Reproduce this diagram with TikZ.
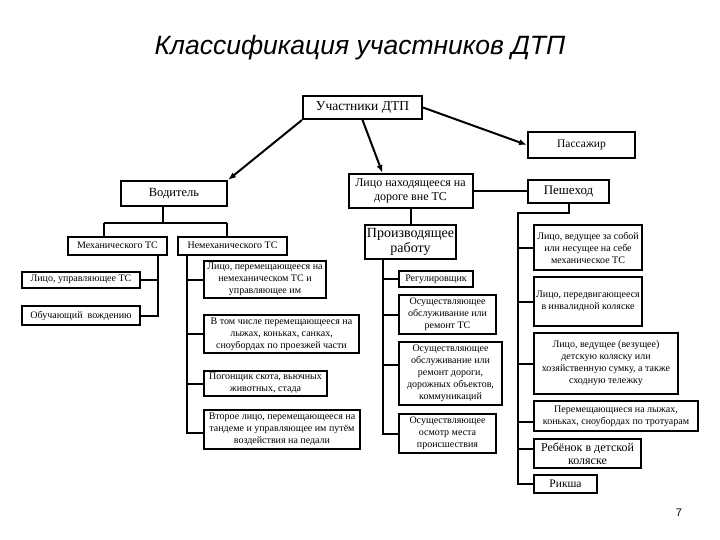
\documentclass[tikz,border=0pt]{standalone}
\usepackage{fontspec}
\setmainfont{Liberation Serif}
\setsansfont{Liberation Sans}
\usetikzlibrary{arrows.meta,calc}
\tikzset{
  box/.style={draw, line width=2pt, inner sep=1pt, align=center, font=\fontsize{10}{12}\selectfont},
  bigbox/.style={box, font=\fontsize{12.5}{14.3}\selectfont},
  conn/.style={line width=2pt},
  arr/.style={line width=2pt, -{Latex[length=8pt,width=6pt]}},
}
\begin{document}
\begin{tikzpicture}[x=1pt,y=-1pt]
\useasboundingbox[fill=white] (0,0) rectangle (720,540);
\node (title) at (360,48) {\sffamily\itshape\fontsize{26.5}{30}\selectfont Классификация участников ДТП};
% level 1
\node[bigbox, font=\fontsize{13.5}{15}\selectfont, minimum width=119, minimum height=23] (uch) at (362.5,107.5) {Участники ДТП};
\node[box, font=\fontsize{11.5}{13}\selectfont, minimum width=107, minimum height=26] (pass) at (581.5,145) {Пассажир};
\node[bigbox, minimum width=106, minimum height=25] (vod) at (174,193.5) {Водитель};
\node[bigbox, font=\fontsize{12}{14.3}\selectfont, minimum width=124, minimum height=34] (lnd) at (410.5,191) {Лицо находящееся на\\дороге вне ТС};
\node[bigbox, font=\fontsize{13}{15}\selectfont, minimum width=81, minimum height=23] (ped) at (568.5,191.5) {Пешеход};
% driver
\node[box, minimum width=99, minimum height=18] (mech) at (117.5,245.5) {Механического ТС};
\node[box, minimum width=109, minimum height=18] (nemech) at (232.5,245.5) {Немеханического ТС};
\node[box, minimum width=118, minimum height=16] (upr) at (81,279.5) {Лицо, управляющее ТС};
\node[box, minimum width=118, minimum height=19] (obuch) at (81,315.5) {Обучающий\ \ вождению};
\node[box, minimum width=122, minimum height=37] (per1) at (265,279.5) {Лицо, перемещающееся на\\немеханическом ТС и\\управляющее им};
\node[box, minimum width=155, minimum height=38] (vtom) at (281.5,334) {В том числе перемещающееся на\\лыжах, коньках, санках,\\сноубордах по проезжей части};
\node[box, minimum width=123, minimum height=25] (pog) at (265.5,383.5) {Погонщик скота, вьючных\\животных, стада};
\node[box, minimum width=156, minimum height=39] (vtor) at (282,429.5) {Второе лицо, перемещающееся на\\тандеме и управляющее им путём\\воздействия на педали};
% work
\node[box, font=\fontsize{14}{15.7}\selectfont, minimum width=91, minimum height=34] (prod) at (410.5,242) {Производящее\\работу};
\node[box, minimum width=74, minimum height=16] (reg) at (436,279) {Регулировщик};
\node[box, minimum width=97, minimum height=39] (obsl1) at (447.5,314.5) {Осуществляющее\\обслуживание или\\ремонт ТС};
\node[box, minimum width=103, minimum height=63] (obsl2) at (450.5,373.5) {Осуществляющее\\обслуживание или\\ремонт дороги,\\дорожных объектов,\\коммуникаций};
\node[box, minimum width=97, minimum height=39] (osm) at (447.5,433.5) {Осуществляющее\\осмотр места\\происшествия};
% pedestrian
\node[box, minimum width=108, minimum height=45] (ved1) at (588,247.5) {Лицо, ведущее за собой\\или несущее на себе\\механическое ТС};
\node[box, minimum width=108, minimum height=49] (inv) at (588,301.5) {Лицо, передвигающееся\\в инвалидной коляске};
\node[box, minimum width=144, minimum height=61] (ved2) at (606,363.5) {Лицо, ведущее (везущее)\\детскую коляску или\\хозяйственную сумку, а также\\сходную тележку};
\node[box, minimum width=164, minimum height=30] (perem) at (616,416) {Перемещающиеся на лыжах,\\коньках, сноубордах по тротуарам};
\node[box, font=\fontsize{12}{12.7}\selectfont, minimum width=107, minimum height=29] (reb) at (587.5,453.5) {Ребёнок в детской\\коляске};
\node[box, font=\fontsize{11.5}{13}\selectfont, minimum width=63, minimum height=18] (riksha) at (565.5,484) {Рикша};
\node (page) at (679,513) {\sffamily\fontsize{11}{13}\selectfont 7};
% arrows from root
\draw[arr] (uch.south west) -- (vod.north east);
\draw[arr] (uch.south) -- ([xshift=-28pt]lnd.north);
\draw[arr] (uch.east) -- (pass.west);
\draw[conn] (lnd.east) -- (lnd.east -| ped.west);
\draw[conn] (lnd.south) -- (prod.north);
% driver tree
\coordinate (vj) at (163,223);
\coordinate (vl) at (104,223);
\coordinate (vr) at (227,223);
\draw[conn] (vod.south -| vj) -- (vj);
\draw[conn] (vl) -- (vr);
\draw[conn] (vl) -- (vl |- mech.north);
\draw[conn] (vr) -- (vr |- nemech.north);
\coordinate (mt) at (158,0);
\draw[conn] (mt |- mech.south) |- (obuch.east);
\draw[conn] (mt |- upr.east) -- (upr.east);
\coordinate (nt) at (187,0);
\draw[conn] (nt |- nemech.south) |- ([yshift=-3pt]vtor.west);
\foreach \n in {per1,vtom,pog} \draw[conn] (nt |- \n.west) -- (\n.west);
% work tree
\coordinate (pt) at (383,0);
\draw[conn] (pt |- prod.south) |- (osm.west);
\foreach \n in {reg,obsl1} \draw[conn] (pt |- \n.west) -- (\n.west);
\draw[conn] (pt |- 0,365) -- ([yshift=8.5pt]obsl2.west);
% pedestrian tree
\coordinate (pj) at (518,213);
\draw[conn] (ped.south) -- (ped.south |- pj) -- (pj) |- (riksha.west);
\foreach \n in {ved1,inv,ved2} \draw[conn] (pj |- \n.west) -- (\n.west);
\draw[conn] (pj |- 0,422) -- ([yshift=-6pt]perem.west);
\draw[conn] (pj |- 0,449) -- ([yshift=4.5pt]reb.west);
\end{tikzpicture}
\end{document}
